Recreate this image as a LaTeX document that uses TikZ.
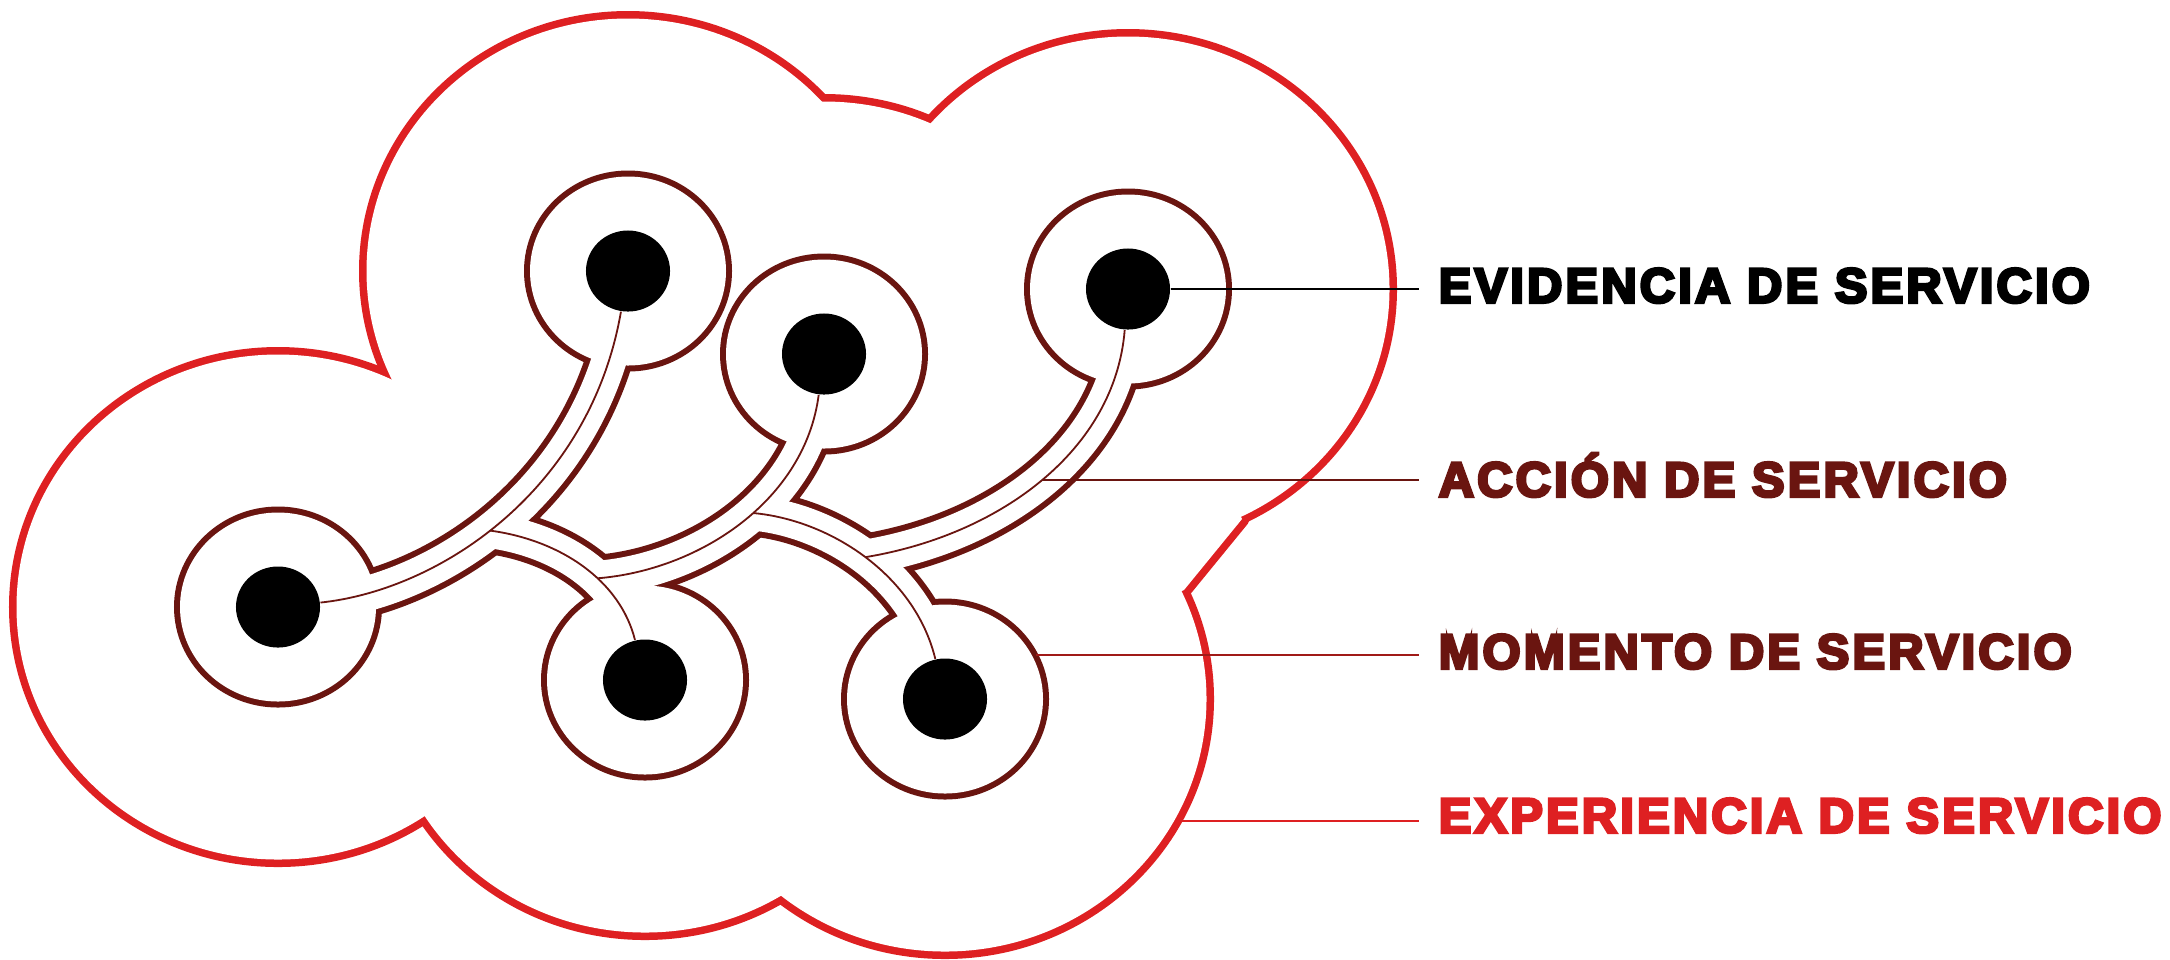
\documentclass[tikz,border=0pt]{standalone}
\usepackage{fontspec}
\usetikzlibrary{shapes.geometric}
\newfontfamily\tagfont[FakeBold=6,LetterSpace=6.5]{Liberation Sans Bold}
\definecolor{cloudred}{RGB}{222,32,34}
\definecolor{darkwine}{RGB}{106,21,16}
\definecolor{momred}{RGB}{160,26,24}
\pgfdeclarelayer{back}
\pgfsetlayers{back,main}
\tikzset{
  dot/.style={ellipse, fill=black, inner sep=0pt, minimum width=.84cm, minimum height=.81cm},
  lobe/.style={draw=cloudred, line width=.15cm, line join=round},
  lobefill/.style={fill=white},
  ringwall/.style={draw=darkwine, line width=.12cm},
  ringhollow/.style={fill=white},
  ringbare/.style={},
  tubewall/.style={draw=darkwine, line width=.47cm},
  tubehollow/.style={draw=white, line width=.35cm},
  thread/.style={draw=darkwine, line width=.018cm},
  tag/.style={anchor=west, inner sep=0pt, inner xsep=.19cm, text height=.35cm, text depth=0pt,
    font=\tagfont\fontsize{13.9pt}{14pt}\selectfont},
  tagline/.style={line width=.022cm}
}
\begin{document}
\begin{tikzpicture}[x=.01cm, y=-.01cm]
  \useasboundingbox (0,0) rectangle (2170,959);
  \foreach \n/\x/\y in {A/278/607, B/628/271, C/824/354, D/1128/289, E/645/680, F/945/699}{
    \node[dot] (\n) at (\x,\y) {};}
  \begin{pgfonlayer}{back}
    \foreach \st in {lobe, lobefill}{
      \foreach \n in {A,B,C,D,E,F}{
        \path[\st] (\n) ellipse [x radius=261.5, y radius=252.5];}
      \path[\st] (D) -- (1242,519) -- (1184,590) -- (F) -- cycle;}
    \foreach \rs/\ts in {ringwall/tubewall, ringhollow/tubehollow, ringbare/thread}{
      \foreach \n in {A,B,C,D,E,F}{
        \path[\rs] (\n) ellipse [x radius=98, y radius=94.5];}
      \path[\ts] (A) .. controls (440,590) and (590,490) .. (B) coordinate[pos=.46] (j1);
      \path[\ts] (j1) .. controls (560,540) and (620,580) .. (E) coordinate[pos=.6] (j2);
      \path[\ts] (C) .. controls (805,500) and (700,570) .. (j2) coordinate[pos=.45] (j3);
      \path[\ts] (j3) .. controls (830,520) and (915,575) .. (F) coordinate[pos=.5] (j4);
      \path[\ts] (D) .. controls (1115,450) and (1000,535) .. (j4) coordinate[pos=.5] (dmid);}
  \end{pgfonlayer}
  \node[tag, text=black] (evid) at (1419,285) {EVIDENCIA DE SERVICIO};
  \node[tag, text=darkwine] (accion) at (1419,479) {ACCIÓN DE SERVICIO};
  \node[tag, text=darkwine] (momento) at (1419,651) {MOMENTO DE SERVICIO};
  \node[tag, text=cloudred] (exper) at (1419,815) {EXPERIENCIA DE SERVICIO};
  \path (F) ++(91,-44) coordinate (mom0);
  \path (F) ++(233,122) coordinate (exp0);
  \draw[tagline, black] (D) -- (D -| evid.west);
  \draw[tagline, darkwine] (dmid) -- (dmid -| accion.west);
  \draw[tagline, momred] (mom0) -- (mom0 -| momento.west);
  \draw[tagline, cloudred] (exp0) -- (exp0 -| exper.west);
\end{tikzpicture}
\end{document}
